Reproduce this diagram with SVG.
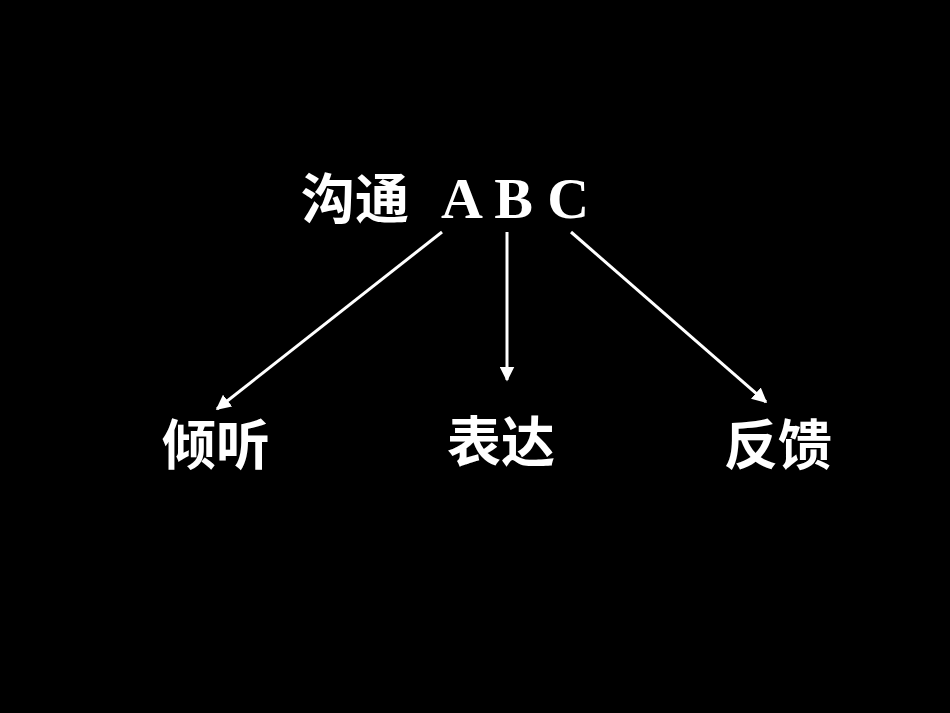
<svg xmlns="http://www.w3.org/2000/svg" width="950" height="713" viewBox="0 0 950 713">
<style>
.cjk{font-family:"Noto Sans CJK SC","Noto Sans CJK JP",sans-serif;font-weight:bold;fill:#fff;font-size:54px}
.lat{font-family:"Liberation Serif",serif;font-weight:bold;fill:#fff;font-size:58px}
.conn line{stroke:#fff;stroke-width:3;marker-end:url(#ah)}
</style>
<defs>
<marker id="ah" viewBox="0 0 10 10" refX="9" refY="5" markerWidth="5" markerHeight="5" orient="auto" markerUnits="strokeWidth">
<path d="M0,0 L10,5 L0,10 z" fill="#fff"/>
</marker>
</defs>
<rect width="950" height="713" fill="#000"/>
<g id="title"><text class="cjk" x="301" y="219">沟通</text><text class="lat" x="441" y="218">A B C</text></g>
<g class="conn" id="connectors">
<line x1="442" y1="232" x2="217" y2="409"/>
<line x1="507" y1="232" x2="507" y2="380"/>
<line x1="571" y1="232" x2="766" y2="402"/>
</g>
<g id="listen"><text class="cjk" x="162" y="465">倾听</text></g>
<g id="express"><text class="cjk" x="447" y="462">表达</text></g>
<g id="feedback"><text class="cjk" x="724" y="465">反馈</text></g>
</svg>
